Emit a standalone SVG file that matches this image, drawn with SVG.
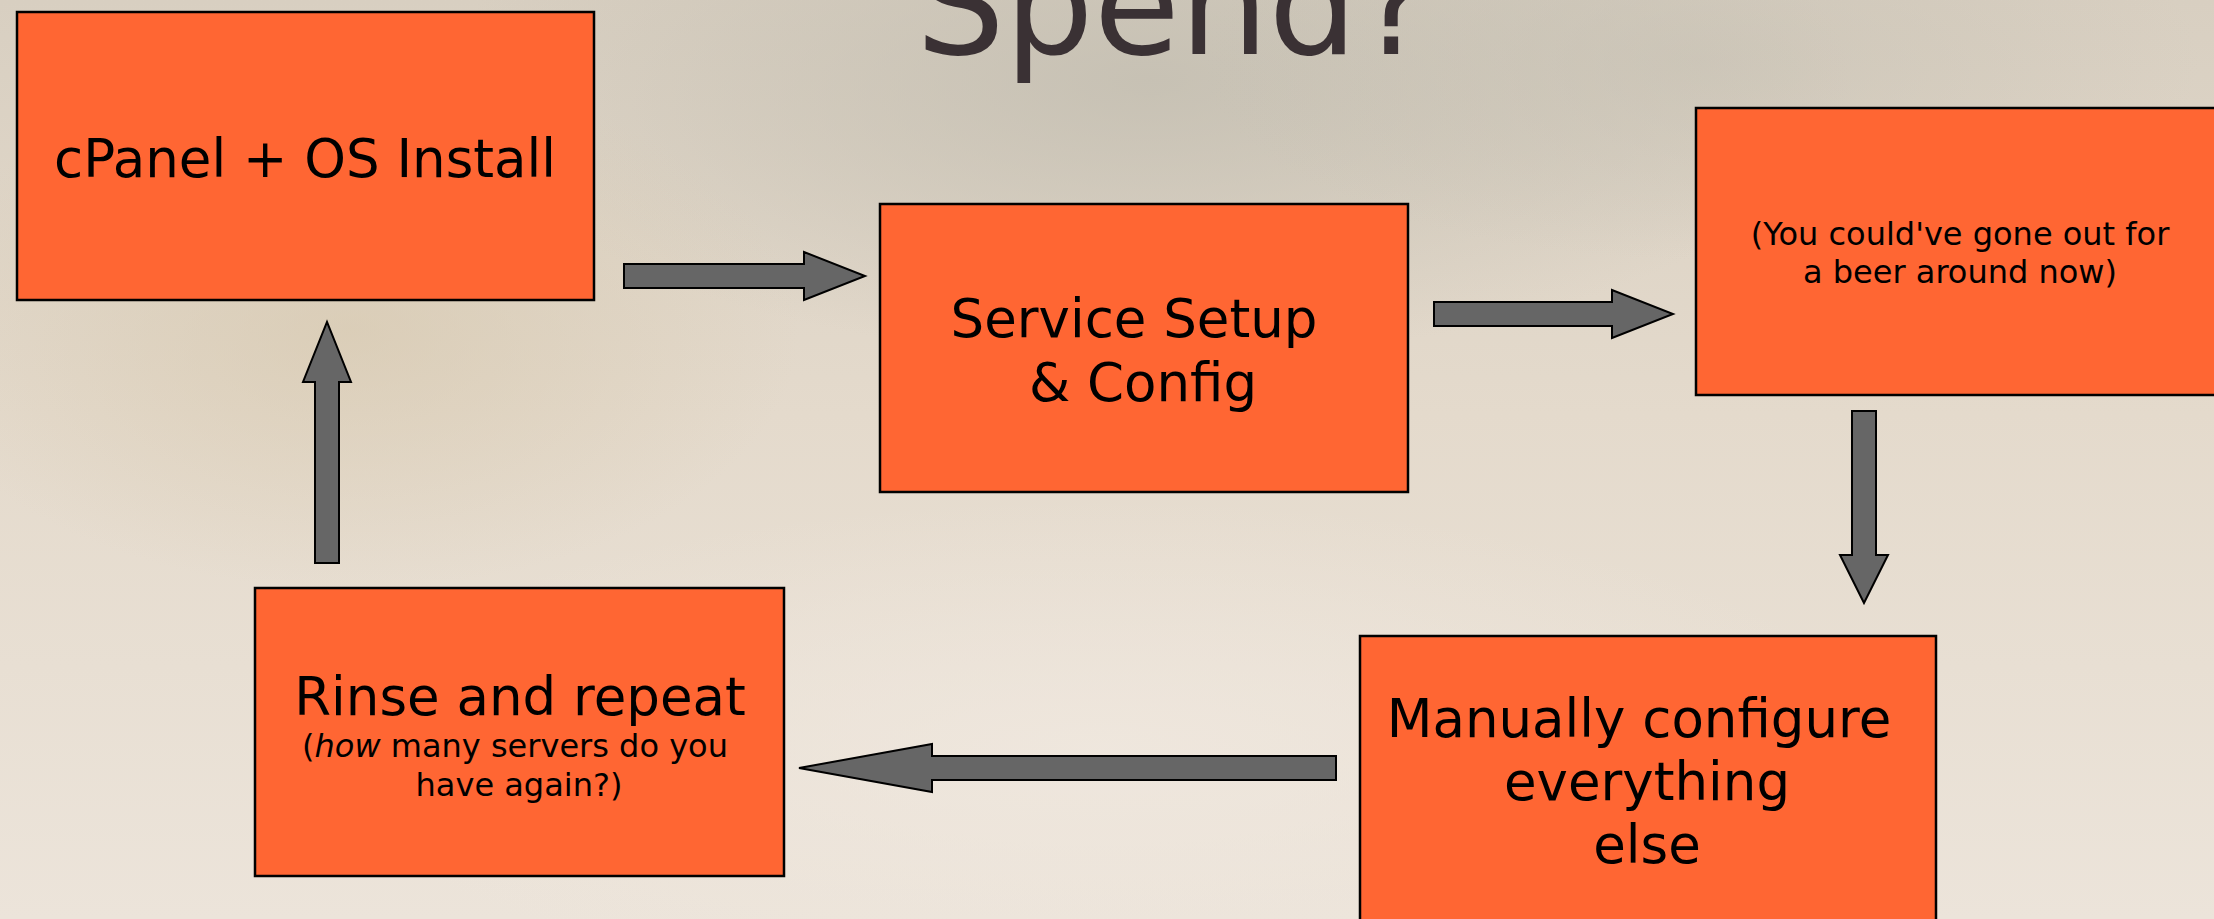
<svg xmlns="http://www.w3.org/2000/svg" width="2214" height="919" viewBox="0 0 2214 919">
<defs>
<style>
.box{fill:#ff6633;stroke:#000;stroke-width:2.5}
.arrow{fill:#666666;stroke:#000;stroke-width:2}
.big{font-family:"DejaVu Sans",sans-serif;font-size:53px;fill:#000;text-anchor:middle}
.small{font-family:"DejaVu Sans",sans-serif;font-size:32px;fill:#000;text-anchor:middle}
.title{font-family:"DejaVu Sans",sans-serif;font-size:140px;fill:#3a3134}
</style>
<linearGradient id="bg" x1="0" y1="0" x2="0" y2="1">
<stop offset="0" stop-color="#d8cfc1"/>
<stop offset="0.45" stop-color="#e4dacc"/>
<stop offset="1" stop-color="#ece4da"/>
</linearGradient>
<radialGradient id="gray" cx="0.5" cy="0.5" r="0.5">
<stop offset="0" stop-color="#c2bdb0" stop-opacity="0.8"/>
<stop offset="1" stop-color="#c2bdb0" stop-opacity="0"/>
</radialGradient>
<radialGradient id="tan" cx="0.5" cy="0.5" r="0.5">
<stop offset="0" stop-color="#d6c7ac" stop-opacity="0.6"/>
<stop offset="1" stop-color="#d6c7ac" stop-opacity="0"/>
</radialGradient>
<radialGradient id="light" cx="0.5" cy="0.5" r="0.5">
<stop offset="0" stop-color="#f0e8df" stop-opacity="0.8"/>
<stop offset="1" stop-color="#f0e8df" stop-opacity="0"/>
</radialGradient>
</defs>
<g id="background">
<rect x="0" y="0" width="2214" height="919" fill="url(#bg)"/>
<ellipse cx="1150" cy="80" rx="700" ry="280" fill="url(#gray)"/>
<ellipse cx="1700" cy="60" rx="500" ry="200" fill="url(#gray)" opacity="0.6"/>
<ellipse cx="350" cy="330" rx="450" ry="260" fill="url(#tan)"/>
<ellipse cx="1100" cy="750" rx="800" ry="250" fill="url(#light)"/>
</g>
<text class="title" x="916" y="54">Spend?</text>
<g id="connectors">
<polygon class="arrow" points="624,264 804,264 804,252 865,276 804,300 804,288 624,288"/>
<polygon class="arrow" points="1434,302 1612,302 1612,290 1673,314 1612,338 1612,326 1434,326"/>
<polygon class="arrow" points="1852,411 1876,411 1876,555 1888,555 1864,603 1840,555 1852,555"/>
<polygon class="arrow" points="1336,756 1336,780 932,780 932,792 799,768 932,744 932,756"/>
<polygon class="arrow" points="315,563 339,563 339,382 351,382 327,322 303,382 315,382"/>
</g>
<g id="node-install">
<rect class="box" x="17" y="12" width="577" height="288"/>
<text class="big" x="305" y="177">cPanel + OS Install</text>
</g>
<g id="node-service">
<rect class="box" x="880" y="204" width="528" height="288"/>
<text class="big" x="1134" y="337">Service Setup</text>
<text class="big" x="1143" y="401">&amp; Config</text>
</g>
<g id="node-beer">
<rect class="box" x="1696" y="108" width="528" height="287"/>
<text class="small" x="1960" y="245">(You could've gone out for</text>
<text class="small" x="1960" y="283">a beer around now)</text>
</g>
<g id="node-manual">
<rect class="box" x="1360" y="636" width="576" height="290"/>
<text class="big" x="1639" y="737">Manually configure</text>
<text class="big" x="1647" y="800">everything</text>
<text class="big" x="1647" y="863">else</text>
</g>
<g id="node-rinse">
<rect class="box" x="255" y="588" width="529" height="288"/>
<text class="big" x="520" y="715">Rinse and repeat</text>
<text class="small" x="515" y="757">(<tspan font-style="italic">how</tspan> many servers do you</text>
<text class="small" x="519" y="796">have again?)</text>
</g>
</svg>
